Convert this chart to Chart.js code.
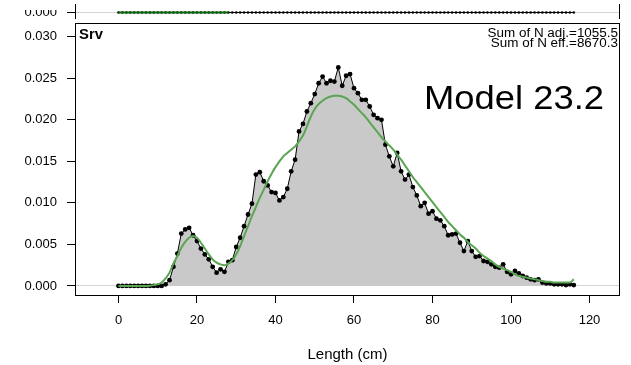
<!DOCTYPE html>
<html>
<head>
<meta charset="utf-8">
<script src="https://cdn.jsdelivr.net/npm/chart.js@4.4.1/dist/chart.umd.min.js"></script>
<style>
  body { margin: 0; background: #fff; }
  #wrap { position: relative; width: 631px; height: 365px; }
  canvas { position: absolute; left: 0; top: 0; }
  #mask { position: absolute; left: 0; top: 0; width: 70px; height: 10px; background: #fff; }
</style>
</head>
<body>
<div id="wrap">
  <canvas id="main" width="631" height="365"></canvas>
  <canvas id="strip" width="631" height="23"></canvas>
  <div id="mask"></div>
</div>
<script>
// length bins (cm)
const lengths = [
  0, 1, 2, 3, 4, 5, 6, 7, 8, 9,
  10, 11, 12, 13, 14, 15, 16, 17, 18, 19,
  20, 21, 22, 23, 24, 25, 26, 27, 28, 29,
  30, 31, 32, 33, 34, 35, 36, 37, 38, 39,
  40, 41, 42, 43, 44, 45, 46, 47, 48, 49,
  50, 51, 52, 53, 54, 55, 56, 57, 58, 59,
  60, 61, 62, 63, 64, 65, 66, 67, 68, 69,
  70, 71, 72, 73, 74, 75, 76, 77, 78, 79,
  80, 81, 82, 83, 84, 85, 86, 87, 88, 89,
  90, 91, 92, 93, 94, 95, 96, 97, 98, 99,
  100, 101, 102, 103, 104, 105, 106, 107, 108, 109,
  110, 111, 112, 113, 114, 115, 116
];

// Srv observed proportions
const srvObs = [
  0, 0, 0, 0, 0, 0, 0, 0, 0, 0,
  0, 0, 0.0002, 0.0007, 0.0023, 0.0039, 0.0063, 0.0068, 0.0070, 0.0061,
  0.0054, 0.0045, 0.0038, 0.0032, 0.0023, 0.0016, 0.0020, 0.0017, 0.0029, 0.0031,
  0.0047, 0.0058, 0.0072, 0.0086, 0.0099, 0.0134, 0.0137, 0.0126, 0.0121, 0.0113,
  0.0112, 0.0103, 0.0107, 0.0117, 0.0138, 0.0152, 0.0186, 0.0195, 0.0210, 0.0220,
  0.0231, 0.0244, 0.0252, 0.0244, 0.0247, 0.0246, 0.0263, 0.0241, 0.0253, 0.0255,
  0.0238, 0.0232, 0.0224, 0.0224, 0.0216, 0.0206, 0.0202, 0.0200, 0.0170, 0.0156,
  0.0144, 0.0160, 0.0138, 0.0128, 0.0134, 0.0119, 0.0109, 0.0096, 0.0100, 0.0087,
  0.0090, 0.0081, 0.0079, 0.0072, 0.0061, 0.0062, 0.0063, 0.0052, 0.0042, 0.0054,
  0.0042, 0.0035, 0.0036, 0.0030, 0.0029, 0.0026, 0.0023, 0.0022, 0.0026, 0.0017,
  0.0014, 0.0018, 0.0015, 0.0012, 0.0010, 0.0008, 0.0007, 0.0008, 0.0004, 0.0003,
  0.0003, 0.0002, 0.0002, 0.0002, 0.0001, 0.0002, 0.0001
];

// Srv expected (model fit)
const srvExp = [
  0, 0, 0, 0, 0, 0, 0, 0, 0.00003, 0.0001,
  0.0002, 0.0004, 0.0009, 0.0016, 0.0027, 0.0036, 0.0046, 0.0053, 0.0058, 0.0060,
  0.0058, 0.0052, 0.0045, 0.0038, 0.0032, 0.0028, 0.0026, 0.0025, 0.0027, 0.0031,
  0.0038, 0.0048, 0.0060, 0.0072, 0.0084, 0.0095, 0.0106, 0.0116, 0.0126, 0.0135,
  0.0143, 0.0150, 0.0156, 0.0160, 0.0164, 0.0168, 0.0174, 0.0181, 0.0192, 0.0204,
  0.0213, 0.0219, 0.0223, 0.0226, 0.0228, 0.0229, 0.0229, 0.0228, 0.0226, 0.0222,
  0.0218, 0.0213, 0.0208, 0.0203, 0.0197, 0.0191, 0.0185, 0.0179, 0.0174, 0.0169,
  0.0164, 0.0158, 0.0152, 0.0145, 0.0138, 0.0131, 0.0125, 0.0119, 0.0113, 0.0107,
  0.0101, 0.0095, 0.0089, 0.0083, 0.0077, 0.0072, 0.0067, 0.0062, 0.0058, 0.0053,
  0.0049, 0.0045, 0.0040, 0.0036, 0.0033, 0.0030, 0.0026, 0.0023, 0.0021, 0.0019,
  0.0017, 0.0014, 0.0012, 0.0011, 0.0010, 0.0009, 0.0008, 0.0007, 0.0006, 0.0005,
  0.0005, 0.0004, 0.0004, 0.0004, 0.0004, 0.0004, 0.0008
];

// upper panel (only its zero line is visible)
const topObs = [
  0, 0, 0, 0, 0, 0, 0, 0, 0, 0, 0, 0, 0, 0, 0, 0, 0, 0, 0, 0,
  0, 0, 0, 0, 0, 0, 0, 0, 0, 0, 0, 0, 0, 0, 0, 0, 0, 0, 0, 0,
  0, 0, 0, 0, 0, 0, 0, 0, 0, 0, 0, 0, 0, 0, 0, 0, 0, 0, 0, 0,
  0, 0, 0, 0, 0, 0, 0, 0, 0, 0, 0, 0, 0, 0, 0, 0, 0, 0, 0, 0,
  0, 0, 0, 0, 0, 0, 0, 0, 0, 0, 0, 0, 0, 0, 0, 0, 0, 0, 0, 0,
  0, 0, 0, 0, 0, 0, 0, 0, 0, 0, 0, 0, 0, 0, 0, 0, 0
];
const topExp = [
  0, 0, 0, 0, 0, 0, 0, 0, 0, 0, 0, 0, 0, 0, 0,
  0, 0, 0, 0, 0, 0, 0, 0, 0, 0, 0, 0, 0, 0
];

const xTicks = [0, 20, 40, 60, 80, 100, 120];
const yTicks = [0, 0.005, 0.010, 0.015, 0.020, 0.025, 0.030];

Chart.defaults.font.family = '"Liberation Sans", Arial, sans-serif';
Chart.defaults.color = '#000';

const pts = (xs, ys) => ys.map((y, i) => ({ x: xs[i], y: y }));

const boxPlugin = {
  id: 'box',
  afterDraw(chart) {
    const { ctx, chartArea: a } = chart;
    ctx.save();
    ctx.strokeStyle = '#000';
    ctx.lineWidth = 1;
    ctx.strokeRect(a.left + 0.5, a.top + 0.5, a.right - a.left - 1, a.bottom - a.top - 1);
    ctx.restore();
  }
};

const labelPlugin = {
  id: 'labels',
  afterDraw(chart) {
    const { ctx, chartArea: a } = chart;
    const txt = (s, x, y, font, align, sx) => {
      ctx.save();
      ctx.translate(x, y);
      ctx.scale(sx, 1);
      ctx.font = font;
      ctx.textAlign = align;
      ctx.textBaseline = 'alphabetic';
      ctx.fillStyle = '#000';
      ctx.fillText(s, 0, 0);
      ctx.restore();
    };
    const f = '"Liberation Sans", Arial, sans-serif';
    txt('Srv', a.left + 4, a.top + 15.5, 'bold 14px ' + f, 'left', 1.06);
    txt('Sum of N adj.=1055.5', a.right - 2, a.top + 13.5, '12px ' + f, 'right', 1.12);
    txt('Sum of N eff.=8670.3', a.right - 2, a.top + 24.2, '12px ' + f, 'right', 1.12);
    txt('Model 23.2', a.right - 16, a.top + 86, '34px ' + f, 'right', 1.07);
  }
};

const yGrid = {
  color: c => (c.tick && c.tick.value === 0 ? '#d4d4d4' : 'rgba(0,0,0,0)'),
  tickColor: '#000',
  tickLength: 8,
  lineWidth: 1
};

new Chart(document.getElementById('main'), {
  type: 'line',
  data: {
    datasets: [
      {
        label: 'expected',
        data: pts(lengths, srvExp),
        borderColor: '#5aa552',
        borderWidth: 2,
        pointRadius: 0,
        fill: false,
        cubicInterpolationMode: 'monotone',
        order: 0
      },
      {
        label: 'observed',
        data: pts(lengths, srvObs),
        borderColor: '#000',
        borderWidth: 1,
        backgroundColor: '#c9c9c9',
        pointBackgroundColor: '#000',
        pointBorderWidth: 0,
        pointRadius: 2.4,
        fill: 'origin',
        order: 1
      }
    ]
  },
  options: {
    responsive: false,
    animation: false,
    devicePixelRatio: 1,
    layout: { padding: { top: 23, right: 11, bottom: 1, left: 0 } },
    plugins: { legend: { display: false }, tooltip: { enabled: false } },
    scales: {
      x: {
        type: 'linear',
        min: -11.08,
        max: 127.77,
        afterBuildTicks: s => { s.ticks = xTicks.map(v => ({ value: v })); },
        afterFit: s => { s.height = 68; },
        ticks: { font: { size: 13 }, padding: 10, maxRotation: 0 },
        grid: { drawOnChartArea: false, tickLength: 7, tickColor: '#000' },
        border: { display: false },
        title: { display: true, text: 'Length (cm)', font: { size: 15 }, padding: { top: 0, bottom: 0 } }
      },
      y: {
        type: 'linear',
        min: -0.00121,
        max: 0.03165,
        afterBuildTicks: s => { s.ticks = yTicks.map(v => ({ value: v })); },
        afterFit: s => { s.width = 75; },
        ticks: { font: { size: 13 }, padding: 10, callback: v => v.toFixed(3) },
        grid: yGrid,
        border: { display: false }
      }
    }
  },
  plugins: [boxPlugin, labelPlugin]
});

// the strip of the panel above
const sidesPlugin = {
  id: 'sides',
  afterDraw(chart) {
    const { ctx, chartArea: a } = chart;
    ctx.save();
    ctx.strokeStyle = '#000';
    ctx.lineWidth = 1;
    ctx.beginPath();
    ctx.moveTo(a.left + 0.5, a.top);
    ctx.lineTo(a.left + 0.5, a.bottom);
    ctx.moveTo(a.right - 0.5, a.top);
    ctx.lineTo(a.right - 0.5, a.bottom);
    ctx.stroke();
    ctx.restore();
  }
};

new Chart(document.getElementById('strip'), {
  type: 'line',
  data: {
    datasets: [
      {
        data: pts(lengths, topExp),
        borderColor: '#0b6b0b',
        borderWidth: 2,
        pointRadius: 0,
        order: 0
      },
      {
        data: pts(lengths, topObs),
        borderColor: '#000',
        borderWidth: 1,
        pointBackgroundColor: '#000',
        pointBorderWidth: 0,
        pointRadius: 1.3,
        order: 1
      }
    ]
  },
  options: {
    responsive: false,
    animation: false,
    devicePixelRatio: 1,
    layout: { padding: 0 },
    plugins: { legend: { display: false }, tooltip: { enabled: false } },
    scales: {
      x: { type: 'linear', min: -11.08, max: 127.77, display: false },
      y: {
        type: 'linear',
        min: -0.001,
        max: 0.0013,
        afterBuildTicks: s => { s.ticks = [{ value: 0 }]; },
        afterFit: s => { s.width = 75; s.paddingTop = 0; s.paddingBottom = 0; },
        ticks: { font: { size: 13 }, padding: 10, callback: v => v.toFixed(3) },
        grid: yGrid,
        border: { display: false }
      }
    }
  },
  plugins: [sidesPlugin, {
    id: 'rightPad',
    beforeLayout(chart) { chart.options.layout.padding = { top: 0, right: 11, bottom: 0, left: 0 }; }
  }]
});
</script>
</body>
</html>
